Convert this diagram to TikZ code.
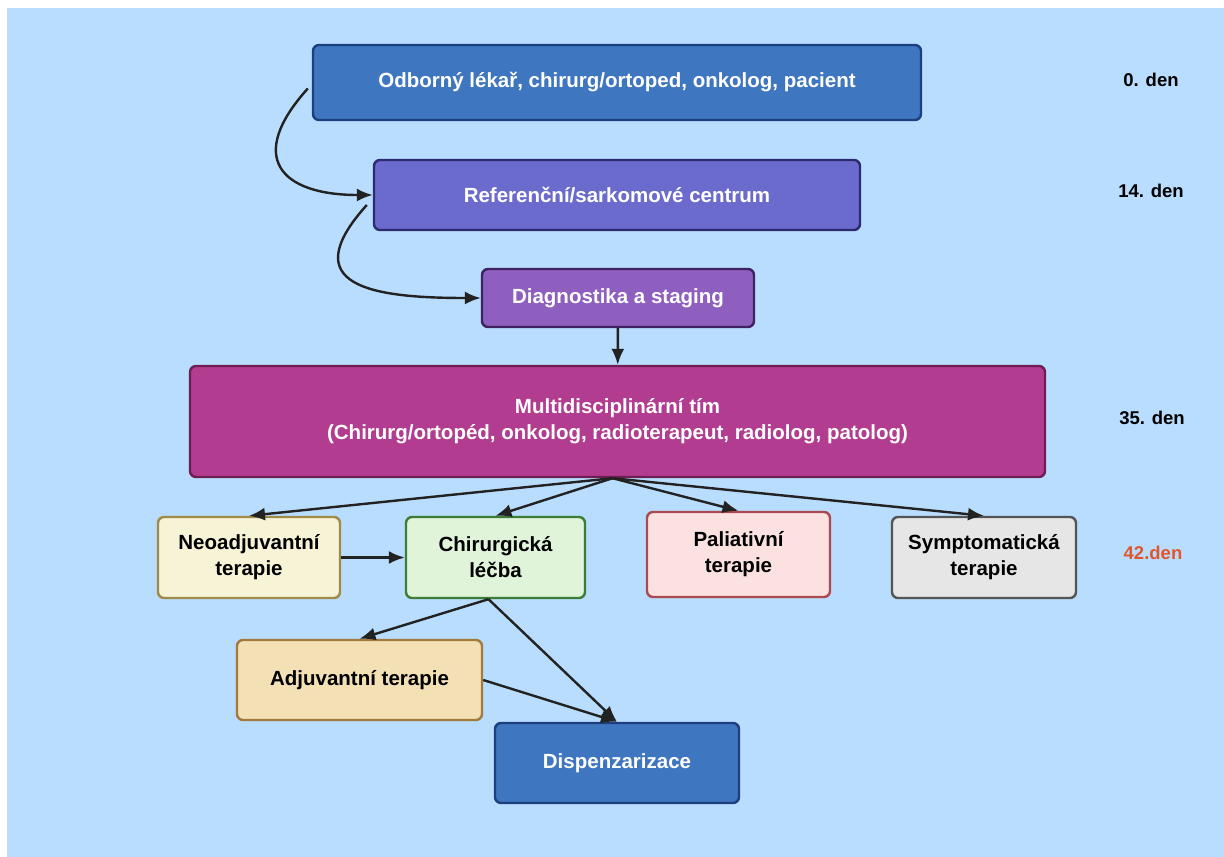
\documentclass[tikz,border=0pt]{standalone}
\usepackage{fontspec}
\setmainfont{Liberation Sans}
\usetikzlibrary{arrows.meta,positioning}
\definecolor{sky}{HTML}{B9DDFE}
\definecolor{ink}{HTML}{222222}
\definecolor{royal}{HTML}{3F76C0}
\definecolor{royalln}{HTML}{1E3F7E}
\definecolor{violet}{HTML}{6B6BCD}
\definecolor{violetln}{HTML}{2E2A70}
\definecolor{lilac}{HTML}{8F5FC0}
\definecolor{lilacln}{HTML}{3E2360}
\definecolor{plum}{HTML}{B23C8F}
\definecolor{plumln}{HTML}{6E1E55}
\definecolor{cream}{HTML}{F6F3D6}
\definecolor{creamln}{HTML}{A08A48}
\definecolor{mint}{HTML}{E0F4D9}
\definecolor{mintln}{HTML}{3E7D37}
\definecolor{rose}{HTML}{FCE1E1}
\definecolor{roseln}{HTML}{AA4950}
\definecolor{ash}{HTML}{E6E6E6}
\definecolor{ashln}{HTML}{555555}
\definecolor{sand}{HTML}{F3E1B5}
\definecolor{sandln}{HTML}{A37A3C}
\definecolor{alert}{HTML}{E0572F}
\tikzset{
  stage/.style={draw, line width=2.4pt, rounded corners=6pt, align=center,
                inner sep=2pt, font=\fontsize{20.5}{26}\selectfont\bfseries},
  darkbox/.style={stage, text=white},
  palebox/.style={stage, text=black},
  ar/.style={-{Latex[length=16pt,width=13pt]}, line width=2.4pt, color=ink},
  day/.style={font=\fontsize{18.5}{20}\selectfont\bfseries, text=black},
}

\begin{document}
\begin{tikzpicture}[x=1pt, y=1pt]

\useasboundingbox (0,0) rectangle (1224,-857);
\fill[white] (0,0) rectangle (1224,-857);
\fill[sky] (7,-8) rectangle (1224,-857);

% --- referral chain ---
\node[darkbox, fill=royal, draw=royalln, minimum width=608pt, minimum height=75pt]
  (odb) at (617,-82.5) {Odborný lékař, chirurg/ortoped, onkolog, pacient};
\node[darkbox, fill=violet, draw=violetln, minimum width=486pt, minimum height=70pt]
  (ref) at (617,-195) {Referenční/sarkomové centrum};
\node[darkbox, fill=lilac, draw=lilacln, minimum width=272pt, minimum height=58pt]
  (diag) at (618,-298) {Diagnostika a staging};
\node[darkbox, fill=plum, draw=plumln, minimum width=855pt, minimum height=111pt]
  (mdt) at (617.5,-421.5) {Multidisciplinární tím\\(Chirurg/ortopéd, onkolog, radioterapeut, radiolog, patolog)};

% --- treatment options ---
\node[palebox, fill=cream, draw=creamln, minimum width=182pt, minimum height=81pt]
  (neo) at (249,-557.5) {Neoadjuvantní\\terapie};
\node[palebox, fill=mint, draw=mintln, minimum width=179pt, minimum height=81pt]
  (chir) at (495.5,-557.5) {Chirurgická\\léčba};
\node[palebox, fill=rose, draw=roseln, minimum width=183pt, minimum height=85pt]
  (pal) at (738.5,-554.5) {Paliativní\\terapie};
\node[palebox, fill=ash, draw=ashln, minimum width=184pt, minimum height=81pt]
  (sym) at (984,-557.5) {Symptomatická\\terapie};

% --- follow-up ---
\node[palebox, fill=sand, draw=sandln, minimum width=245pt, minimum height=80pt]
  (adj) at (359.5,-680) {Adjuvantní terapie};
\node[darkbox, fill=royal, draw=royalln, minimum width=244pt, minimum height=80pt]
  (disp) at (617,-763) {Dispenzarizace};

% --- timeline ---
\node[day] (d0)  at (1151,-80)  {0. den};
\node[day] (d14) at (1151,-191) {14. den};
\node[day] (d35) at (1152,-418) {35. den};
\node[day, text=alert] (d42) at (1153,-553) {42.den};

% --- connectors ---
\draw[ar] ([xshift=-4pt,yshift=-6pt]odb.west) to[out=228, in=180, looseness=1.9] (ref.west);
\draw[ar] ([xshift=-6pt,yshift=-10pt]ref.west) to[out=228, in=180, looseness=1.9] (diag.west);
\draw[ar] (diag) -- (mdt);
\draw[ar] ([xshift=-5pt]mdt.south) -- (neo.north);
\draw[ar] ([xshift=-5pt]mdt.south) -- (chir.north);
\draw[ar] ([xshift=-5pt]mdt.south) -- (pal.north);
\draw[ar] ([xshift=-5pt]mdt.south) -- (sym.north);
\draw[ar] (neo) -- (chir);
\draw[ar] ([xshift=-7pt]chir.south) -- (adj.north);
\draw[ar] ([xshift=-7pt]chir.south) -- (disp.north);
\draw[ar] (adj.east) -- (disp.north);

\end{tikzpicture}
\end{document}
